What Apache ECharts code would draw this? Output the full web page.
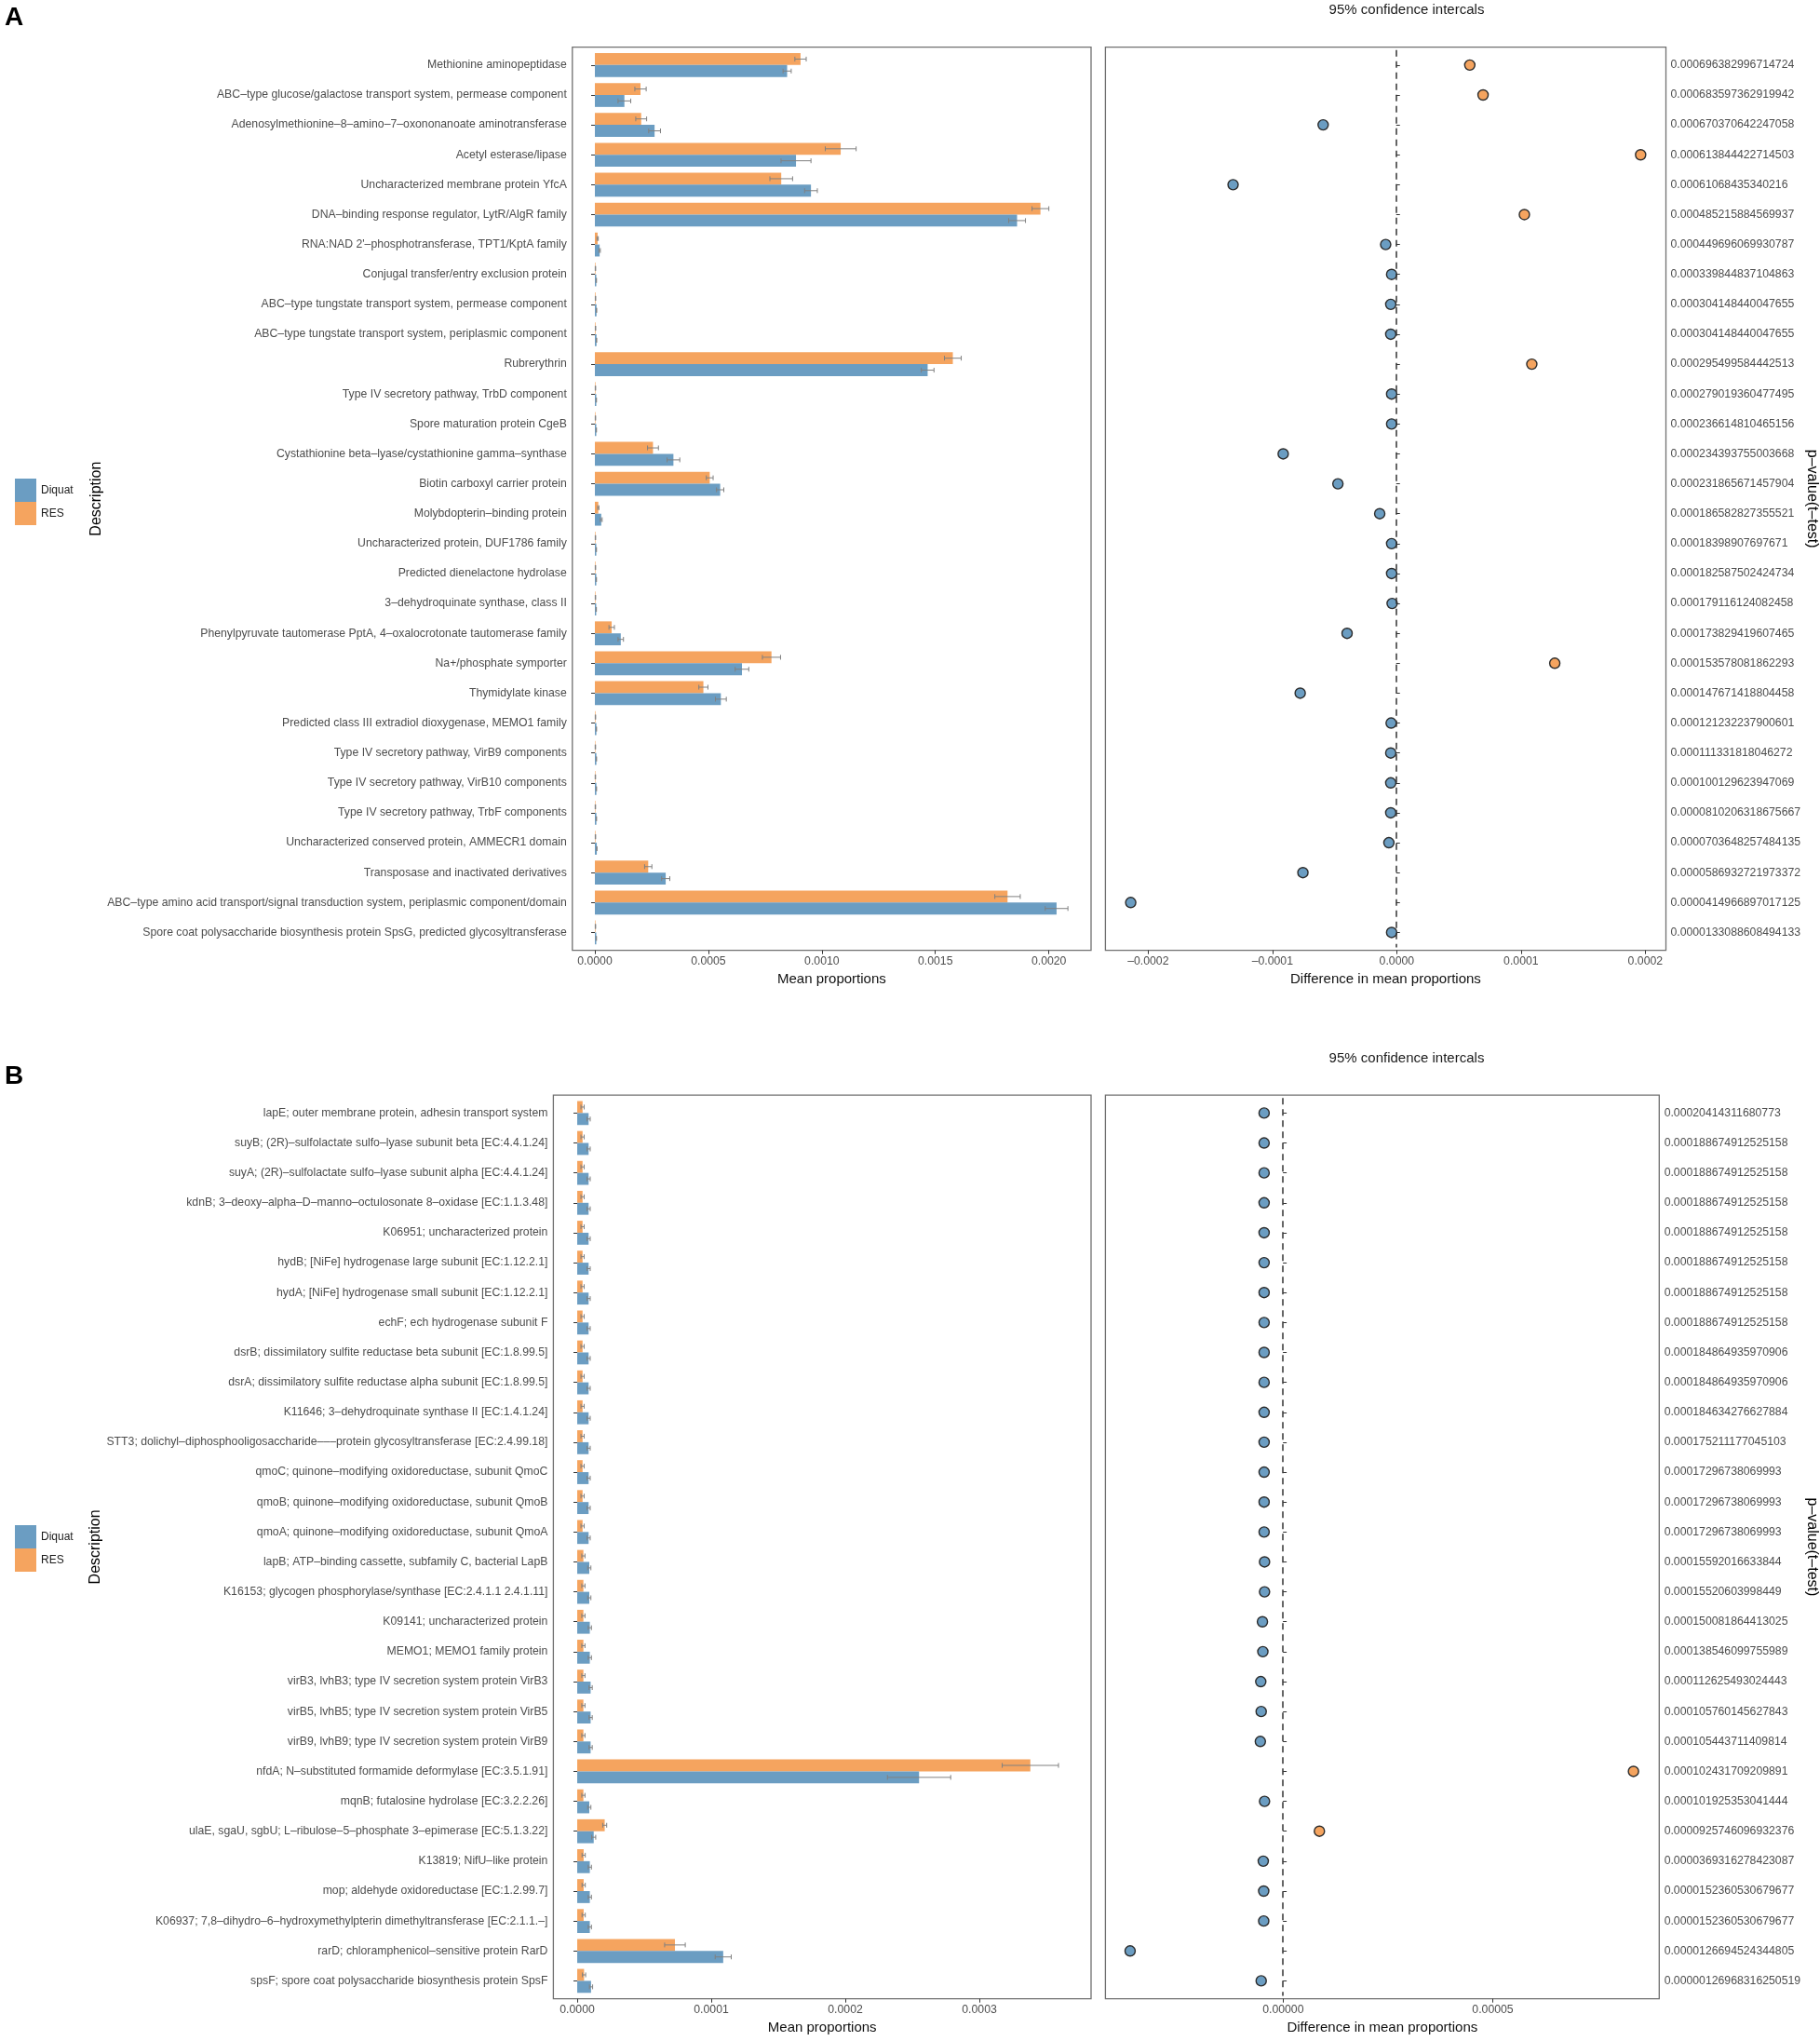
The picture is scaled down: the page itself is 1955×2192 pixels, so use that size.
<!DOCTYPE html>
<html>
<head>
<meta charset="utf-8">
<title>Diquat vs RES - mean proportions and differences</title>
<script src="https://cdn.jsdelivr.net/npm/echarts@6/dist/echarts.min.js"></script>
<style>
  html, body { margin: 0; padding: 0; background: #fff; }
  #chart { width: 1955px; height: 2192px; }
</style>
</head>
<body>
<div id="chart"></div>
<script>
// ---------- Panel A (COG descriptions) ----------
const namesA = [
    'Methionine aminopeptidase',
    'ABC\u2013type glucose/galactose transport system, permease component',
    'Adenosylmethionine\u20138\u2013amino\u20137\u2013oxononanoate aminotransferase',
    'Acetyl esterase/lipase',
    'Uncharacterized membrane protein YfcA',
    'DNA\u2013binding response regulator, LytR/AlgR family',
    'RNA:NAD 2\'\u2013phosphotransferase, TPT1/KptA family',
    'Conjugal transfer/entry exclusion protein',
    'ABC\u2013type tungstate transport system, permease component',
    'ABC\u2013type tungstate transport system, periplasmic component',
    'Rubrerythrin',
    'Type IV secretory pathway, TrbD component',
    'Spore maturation protein CgeB',
    'Cystathionine beta\u2013lyase/cystathionine gamma\u2013synthase',
    'Biotin carboxyl carrier protein',
    'Molybdopterin\u2013binding protein',
    'Uncharacterized protein, DUF1786 family',
    'Predicted dienelactone hydrolase',
    '3\u2013dehydroquinate synthase, class II',
    'Phenylpyruvate tautomerase PptA, 4\u2013oxalocrotonate tautomerase family',
    'Na+/phosphate symporter',
    'Thymidylate kinase',
    'Predicted class III extradiol dioxygenase, MEMO1 family',
    'Type IV secretory pathway, VirB9 components',
    'Type IV secretory pathway, VirB10 components',
    'Type IV secretory pathway, TrbF components',
    'Uncharacterized conserved protein, AMMECR1 domain',
    'Transposase and inactivated derivatives',
    'ABC\u2013type amino acid transport/signal transduction system, periplasmic component/domain',
    'Spore coat polysaccharide biosynthesis protein SpsG, predicted glycosyltransferase'
];
const resA = [0.000906, 0.000201, 0.000204, 0.001083, 0.000821, 0.001963, 0.000012, 0.0000025, 0.0000028, 0.0000028,
              0.001577, 0.0000025, 0.0000025, 0.000256, 0.000506, 0.000015, 0.0000025, 0.0000025, 0.0000025, 0.000074,
              0.000778, 0.000478, 0.0000025, 0.0000022, 0.0000022, 0.0000022, 0.0000025, 0.000235, 0.001818, 0.0000025];
const resErrA = [0.000025, 0.000025, 0.000024, 0.000068, 0.00005, 0.000037, 0.000003, 0.000001, 0.000001, 0.000001,
                 0.000037, 0.000001, 0.000001, 0.000024, 0.000015, 0.000003, 0.000001, 0.000001, 0.000001, 0.000012,
                 0.00004, 0.00002, 0.000001, 0.000001, 0.000001, 0.000001, 0.000001, 0.000016, 0.000056, 0.000001];
const diqA = [0.000847, 0.00013, 0.000263, 0.000886, 0.000952, 0.00186, 0.000021, 0.0000062, 0.0000072, 0.0000072,
              0.001466, 0.0000062, 0.0000062, 0.000346, 0.000552, 0.000028, 0.0000062, 0.0000062, 0.0000058, 0.000114,
              0.000648, 0.000555, 0.0000066, 0.0000066, 0.0000066, 0.0000066, 0.0000084, 0.000312, 0.002034, 0.0000062];
const diqErrA = [0.000018, 0.000028, 0.000026, 0.000066, 0.000028, 0.000037, 0.000003, 0.000001, 0.000001, 0.000001,
                 0.000028, 0.000001, 0.000001, 0.000028, 0.000016, 0.000004, 0.000001, 0.000001, 0.000001, 0.000012,
                 0.00003, 0.000024, 0.000001, 0.000001, 0.000001, 0.000001, 0.000001, 0.000018, 0.00005, 0.000001];
const diffA = [0.0000593, 0.00007, -0.0000589, 0.000197, -0.0001315, 0.0001033, -0.0000085, -0.0000037, -0.0000044, -0.0000044,
               0.0001093, -0.0000037, -0.0000037, -0.0000911, -0.000047, -0.0000133, -0.0000037, -0.0000037, -0.0000033, -0.0000396,
               0.0001278, -0.0000774, -0.0000041, -0.0000044, -0.0000044, -0.0000044, -0.0000059, -0.0000752, -0.000214, -0.0000037];
const pvalA = [
    '0.000696382996714724', '0.000683597362919942', '0.000670370642247058', '0.000613844422714503',
    '0.00061068435340216', '0.000485215884569937', '0.000449696069930787', '0.000339844837104863',
    '0.000304148440047655', '0.000304148440047655', '0.000295499584442513', '0.000279019360477495',
    '0.000236614810465156', '0.000234393755003668', '0.000231865671457904', '0.000186582827355521',
    '0.00018398907697671', '0.000182587502424734', '0.000179116124082458', '0.000173829419607465',
    '0.000153578081862293', '0.000147671418804458', '0.000121232237900601', '0.000111331818046272',
    '0.000100129623947069', '0.0000810206318675667', '0.0000703648257484135', '0.0000586932721973372',
    '0.0000414966897017125', '0.0000133088608494133'
];
const ticksLeftA = [0, 0.0005, 0.001, 0.0015, 0.002];
const ticksRightA = [-0.0002, -0.0001, 0, 0.0001, 0.0002];

// ---------- Panel B (KEGG orthologs) ----------
const namesB = [
    'lapE; outer membrane protein, adhesin transport system',
    'suyB; (2R)\u2013sulfolactate sulfo\u2013lyase subunit beta [EC:4.4.1.24]',
    'suyA; (2R)\u2013sulfolactate sulfo\u2013lyase subunit alpha [EC:4.4.1.24]',
    'kdnB; 3\u2013deoxy\u2013alpha\u2013D\u2013manno\u2013octulosonate 8\u2013oxidase [EC:1.1.3.48]',
    'K06951; uncharacterized protein',
    'hydB; [NiFe] hydrogenase large subunit [EC:1.12.2.1]',
    'hydA; [NiFe] hydrogenase small subunit [EC:1.12.2.1]',
    'echF; ech hydrogenase subunit F',
    'dsrB; dissimilatory sulfite reductase beta subunit [EC:1.8.99.5]',
    'dsrA; dissimilatory sulfite reductase alpha subunit [EC:1.8.99.5]',
    'K11646; 3\u2013dehydroquinate synthase II [EC:1.4.1.24]',
    'STT3; dolichyl\u2013diphosphooligosaccharide\u2013\u2013\u2013protein glycosyltransferase [EC:2.4.99.18]',
    'qmoC; quinone\u2013modifying oxidoreductase, subunit QmoC',
    'qmoB; quinone\u2013modifying oxidoreductase, subunit QmoB',
    'qmoA; quinone\u2013modifying oxidoreductase, subunit QmoA',
    'lapB; ATP\u2013binding cassette, subfamily C, bacterial LapB',
    'K16153; glycogen phosphorylase/synthase [EC:2.4.1.1 2.4.1.11]',
    'K09141; uncharacterized protein',
    'MEMO1; MEMO1 family protein',
    'virB3, lvhB3; type IV secretion system protein VirB3',
    'virB5, lvhB5; type IV secretion system protein VirB5',
    'virB9, lvhB9; type IV secretion system protein VirB9',
    'nfdA; N\u2013substituted formamide deformylase [EC:3.5.1.91]',
    'mqnB; futalosine hydrolase [EC:3.2.2.26]',
    'ulaE, sgaU, sgbU; L\u2013ribulose\u20135\u2013phosphate 3\u2013epimerase [EC:5.1.3.22]',
    'K13819; NifU\u2013like protein',
    'mop; aldehyde oxidoreductase [EC:1.2.99.7]',
    'K06937; 7,8\u2013dihydro\u20136\u2013hydroxymethylpterin dimethyltransferase [EC:2.1.1.\u2013]',
    'rarD; chloramphenicol\u2013sensitive protein RarD',
    'spsF; spore coat polysaccharide biosynthesis protein SpsF'
];
const resB = [0.000004, 0.000004, 0.000004, 0.000004, 0.000004, 0.000004, 0.000004, 0.000004, 0.000004, 0.000004,
              0.000004, 0.000004, 0.000004, 0.000004, 0.000004, 0.0000046, 0.0000046, 0.0000046, 0.0000046, 0.0000046,
              0.0000046, 0.0000046, 0.000338, 0.0000046, 0.0000205, 0.0000048, 0.0000048, 0.0000048, 0.0000729, 0.0000051];
const resErrB = [0.0000012, 0.0000012, 0.0000012, 0.0000012, 0.0000012, 0.0000012, 0.0000012, 0.0000012, 0.0000012, 0.0000012,
                 0.0000012, 0.0000012, 0.0000012, 0.0000012, 0.0000012, 0.0000012, 0.0000012, 0.0000012, 0.0000012, 0.0000012,
                 0.0000012, 0.0000012, 0.000021, 0.0000012, 0.0000015, 0.0000012, 0.0000012, 0.0000012, 0.0000077, 0.0000012];
const diqB = [0.0000085, 0.0000085, 0.0000085, 0.0000085, 0.0000085, 0.0000085, 0.0000085, 0.0000085, 0.0000085, 0.0000085,
              0.0000085, 0.0000085, 0.0000085, 0.0000085, 0.0000085, 0.000009, 0.000009, 0.0000094, 0.0000094, 0.00001,
              0.00001, 0.00001, 0.000255, 0.000009, 0.0000123, 0.0000094, 0.0000094, 0.0000094, 0.0001089, 0.0000103];
const diqErrB = [0.0000012, 0.0000012, 0.0000012, 0.0000012, 0.0000012, 0.0000012, 0.0000012, 0.0000012, 0.0000012, 0.0000012,
                 0.0000012, 0.0000012, 0.0000012, 0.0000012, 0.0000012, 0.0000012, 0.0000012, 0.0000012, 0.0000012, 0.0000012,
                 0.0000012, 0.0000012, 0.0000236, 0.0000012, 0.0000015, 0.0000012, 0.0000012, 0.0000012, 0.000006, 0.0000012];
const diffB = [-0.0000045, -0.0000045, -0.0000045, -0.0000045, -0.0000045, -0.0000045, -0.0000045, -0.0000045, -0.0000045, -0.0000045,
               -0.0000045, -0.0000045, -0.0000045, -0.0000045, -0.0000045, -0.0000044, -0.0000044, -0.0000049, -0.0000048, -0.0000053,
               -0.0000052, -0.0000054, 0.0000837, -0.0000044, 0.0000087, -0.0000047, -0.0000046, -0.0000046, -0.0000365, -0.0000052];
const pvalB = [
    '0.00020414311680773', '0.000188674912525158', '0.000188674912525158', '0.000188674912525158',
    '0.000188674912525158', '0.000188674912525158', '0.000188674912525158', '0.000188674912525158',
    '0.000184864935970906', '0.000184864935970906', '0.000184634276627884', '0.000175211177045103',
    '0.00017296738069993', '0.00017296738069993', '0.00017296738069993', '0.00015592016633844',
    '0.00015520603998449', '0.000150081864413025', '0.000138546099755989', '0.000112625493024443',
    '0.000105760145627843', '0.000105443711409814', '0.000102431709209891', '0.000101925353041444',
    '0.0000925746096932376', '0.0000369316278423087', '0.0000152360530679677', '0.0000152360530679677',
    '0.0000126694524344805', '0.00000126968316250519'
];
const ticksLeftB = [0, 0.0001, 0.0002, 0.0003];
const ticksRightB = [0, 0.00005];

// ---------- styles ----------
const FONT = '"Liberation Sans", Arial, Helvetica, sans-serif';
const colors = { diquat: '#6B9DC2', res: '#F5A45F' };
const frameColor = '#707070';
const tickColor = '#333';
const labelColor = '#4d4d4d';
const labelSize = 12.25;

function fmt(digits) {
    return function (v) {
        return Number(v).toFixed(digits).replace('-', '\u2013');
    };
}

// error bars for the two dodged bars of each row
function renderErr(params, api) {
    const idx = api.value(0);
    const band = api.size([0, 1])[1];
    const cap = band * 0.08;
    const st = { stroke: '#808080', lineWidth: 1 };
    const kids = [];
    [[1, 2, -0.2], [3, 4, 0.2]].forEach(function (g) {
        const m = api.value(g[0]);
        const e = api.value(g[1]);
        const a = api.coord([m - e, idx]);
        const b = api.coord([m + e, idx]);
        const y = a[1] + g[2] * band;
        kids.push({ type: 'line', shape: { x1: a[0], y1: y, x2: b[0], y2: y }, style: st });
        kids.push({ type: 'line', shape: { x1: a[0], y1: y - cap, x2: a[0], y2: y + cap }, style: st });
        kids.push({ type: 'line', shape: { x1: b[0], y1: y - cap, x2: b[0], y2: y + cap }, style: st });
    });
    return { type: 'group', children: kids };
}

const grid = [], xAxis = [], yAxis = [], series = [];

/**
 * one panel = frame grid + data grid (left bars) and frame grid + data grid (right dots)
 */
function addPanel(p) {
    const base = grid.length;
    const band = (p.bottom - p.top) / 30.2;
    const dTop = p.top + 0.1 * band;
    const dH = 30 * band;
    const wL = p.rightL - p.leftL;
    const wR = p.rightR - p.leftR;

    grid.push(
        { left: p.leftL, top: p.top, width: wL, height: p.bottom - p.top, show: true, borderColor: frameColor, borderWidth: 1.3 },
        { left: p.leftL, top: dTop, width: wL, height: dH },
        { left: p.leftR, top: p.top, width: wR, height: p.bottom - p.top, show: true, borderColor: frameColor, borderWidth: 1.3 },
        { left: p.leftR, top: dTop, width: wR, height: dH }
    );

    const tickX = function (k, ticks, digits, name) {
        return {
            type: 'value', min: p.xMin[k], max: p.xMax[k],
            axisLine: { show: false },
            splitLine: { show: false },
            axisTick: { show: true, length: 4, customValues: ticks, lineStyle: { color: tickColor, width: 1 } },
            axisLabel: { customValues: ticks, formatter: fmt(digits), margin: 6, fontSize: labelSize, color: labelColor, fontFamily: FONT },
            name: name, nameLocation: 'middle', nameGap: 24,
            nameTextStyle: { fontSize: 15, color: '#111', fontFamily: FONT }
        };
    };

    xAxis.push(
        Object.assign(tickX(0, p.ticksL, p.digitsL, 'Mean proportions'), { gridIndex: base }),
        { gridIndex: base + 1, type: 'value', min: p.xMin[0], max: p.xMax[0], show: false },
        Object.assign(tickX(1, p.ticksR, p.digitsR, 'Difference in mean proportions'), { gridIndex: base + 2 }),
        { gridIndex: base + 3, type: 'value', min: p.xMin[1], max: p.xMax[1], show: false }
    );

    yAxis.push(
        { gridIndex: base, type: 'value', min: 0, max: 1, show: false },
        {
            gridIndex: base + 1, type: 'category', data: p.names, inverse: true,
            axisLine: { show: false },
            axisTick: { show: true, alignWithLabel: true, length: 4, lineStyle: { color: tickColor } },
            axisLabel: { interval: 0, margin: 6, fontSize: labelSize, color: labelColor, fontFamily: FONT },
            name: 'Description', nameLocation: 'middle', nameRotate: 90, nameGap: p.descGap,
            nameTextStyle: { fontSize: 16, color: '#000', fontFamily: FONT }
        },
        { gridIndex: base + 2, type: 'value', min: 0, max: 1, show: false },
        {
            gridIndex: base + 3, type: 'category', data: p.names, inverse: true, position: 'right',
            axisLine: { show: false },
            axisTick: { show: true, alignWithLabel: true, length: 4, lineStyle: { color: tickColor } },
            axisLabel: {
                interval: 0, margin: 6, fontSize: labelSize, color: labelColor, fontFamily: FONT,
                formatter: function (v, i) { return p.pvals[i]; }
            },
            name: 'p\u2013value(t\u2013test)', nameLocation: 'middle', nameRotate: -90, nameGap: p.pGap,
            nameTextStyle: { fontSize: 16, color: '#000', fontFamily: FONT }
        }
    );

    series.push(
        {
            name: 'RES', type: 'bar', xAxisIndex: base + 1, yAxisIndex: base + 1,
            data: p.res, barCategoryGap: '20%', barGap: '0%',
            itemStyle: { color: colors.res }
        },
        {
            name: 'Diquat', type: 'bar', xAxisIndex: base + 1, yAxisIndex: base + 1,
            data: p.diq, barCategoryGap: '20%', barGap: '0%',
            itemStyle: { color: colors.diquat }
        },
        {
            name: 'err' + p.id, type: 'custom', xAxisIndex: base + 1, yAxisIndex: base + 1,
            renderItem: renderErr, silent: true, z: 3,
            encode: { y: 0, x: [1, 3] },
            data: p.res.map(function (v, i) { return [i, v, p.resErr[i], p.diq[i], p.diqErr[i]]; })
        },
        {
            name: 'diff' + p.id, type: 'scatter', xAxisIndex: base + 3, yAxisIndex: base + 3,
            symbolSize: 11,
            itemStyle: {
                color: function (d) { return d.value[0] > 0 ? colors.res : colors.diquat; },
                borderColor: '#2b2b2b', borderWidth: 1.4, opacity: 1
            },
            data: p.diff.map(function (v, i) { return [v, i]; }),
            markLine: {
                silent: true, symbol: ['none', 'none'], label: { show: false },
                lineStyle: { type: [7, 5], color: '#333', width: 1.5 },
                data: [{ xAxis: 0 }]
            },
            z: 4
        }
    );
}

addPanel({
    id: 'A', names: namesA, res: resA, resErr: resErrA, diq: diqA, diqErr: diqErrA, diff: diffA, pvals: pvalA,
    top: 50.6, bottom: 1020.7, leftL: 614.8, rightL: 1172, leftR: 1187.4, rightR: 1789.5,
    xMin: [-0.0000993, -0.0002344], xMax: [0.002186, 0.0002166],
    ticksL: ticksLeftA, digitsL: 4, ticksR: ticksRightA, digitsR: 4,
    descGap: 502, pGap: 146
});
addPanel({
    id: 'B', names: namesB, res: resB, resErr: resErrB, diq: diqB, diqErr: diqErrB, diff: diffB, pvals: pvalB,
    top: 1176.1, bottom: 2146.7, leftL: 594.4, rightL: 1172, leftR: 1187.4, rightR: 1782.3,
    xMin: [-0.0000178, -0.0000424], xMax: [0.0003833, 0.0000897],
    ticksL: ticksLeftB, digitsL: 4, ticksR: ticksRightB, digitsR: 5,
    descGap: 482, pGap: 153
});

const legendBase = {
    data: ['Diquat', 'RES'], orient: 'vertical', left: 16, icon: 'rect',
    itemWidth: 23, itemHeight: 25, itemGap: 0, selectedMode: false, padding: 0,
    textStyle: { fontSize: 12, color: '#1a1a1a', fontFamily: FONT }
};

const chart = echarts.init(document.getElementById('chart'));
chart.setOption({
    animation: false,
    backgroundColor: '#fff',
    textStyle: { fontFamily: FONT },
    title: [
        { text: 'A', left: 5, top: 5, padding: 0, textStyle: { fontSize: 28, fontWeight: 'bold', color: '#000', fontFamily: FONT } },
        { text: 'B', left: 5, top: 1142, padding: 0, textStyle: { fontSize: 28, fontWeight: 'bold', color: '#000', fontFamily: FONT } },
        { text: '95% confidence intercals', left: 1511, top: 3, padding: 0, textAlign: 'center',
          textStyle: { fontSize: 15, fontWeight: 'normal', color: '#1a1a1a', fontFamily: FONT } },
        { text: '95% confidence intercals', left: 1511, top: 1129, padding: 0, textAlign: 'center',
          textStyle: { fontSize: 15, fontWeight: 'normal', color: '#1a1a1a', fontFamily: FONT } }
    ],
    legend: [
        Object.assign({}, legendBase, { top: 514 }),
        Object.assign({}, legendBase, { top: 1638 })
    ],
    grid: grid,
    xAxis: xAxis,
    yAxis: yAxis,
    series: series
});
</script>
</body>
</html>
